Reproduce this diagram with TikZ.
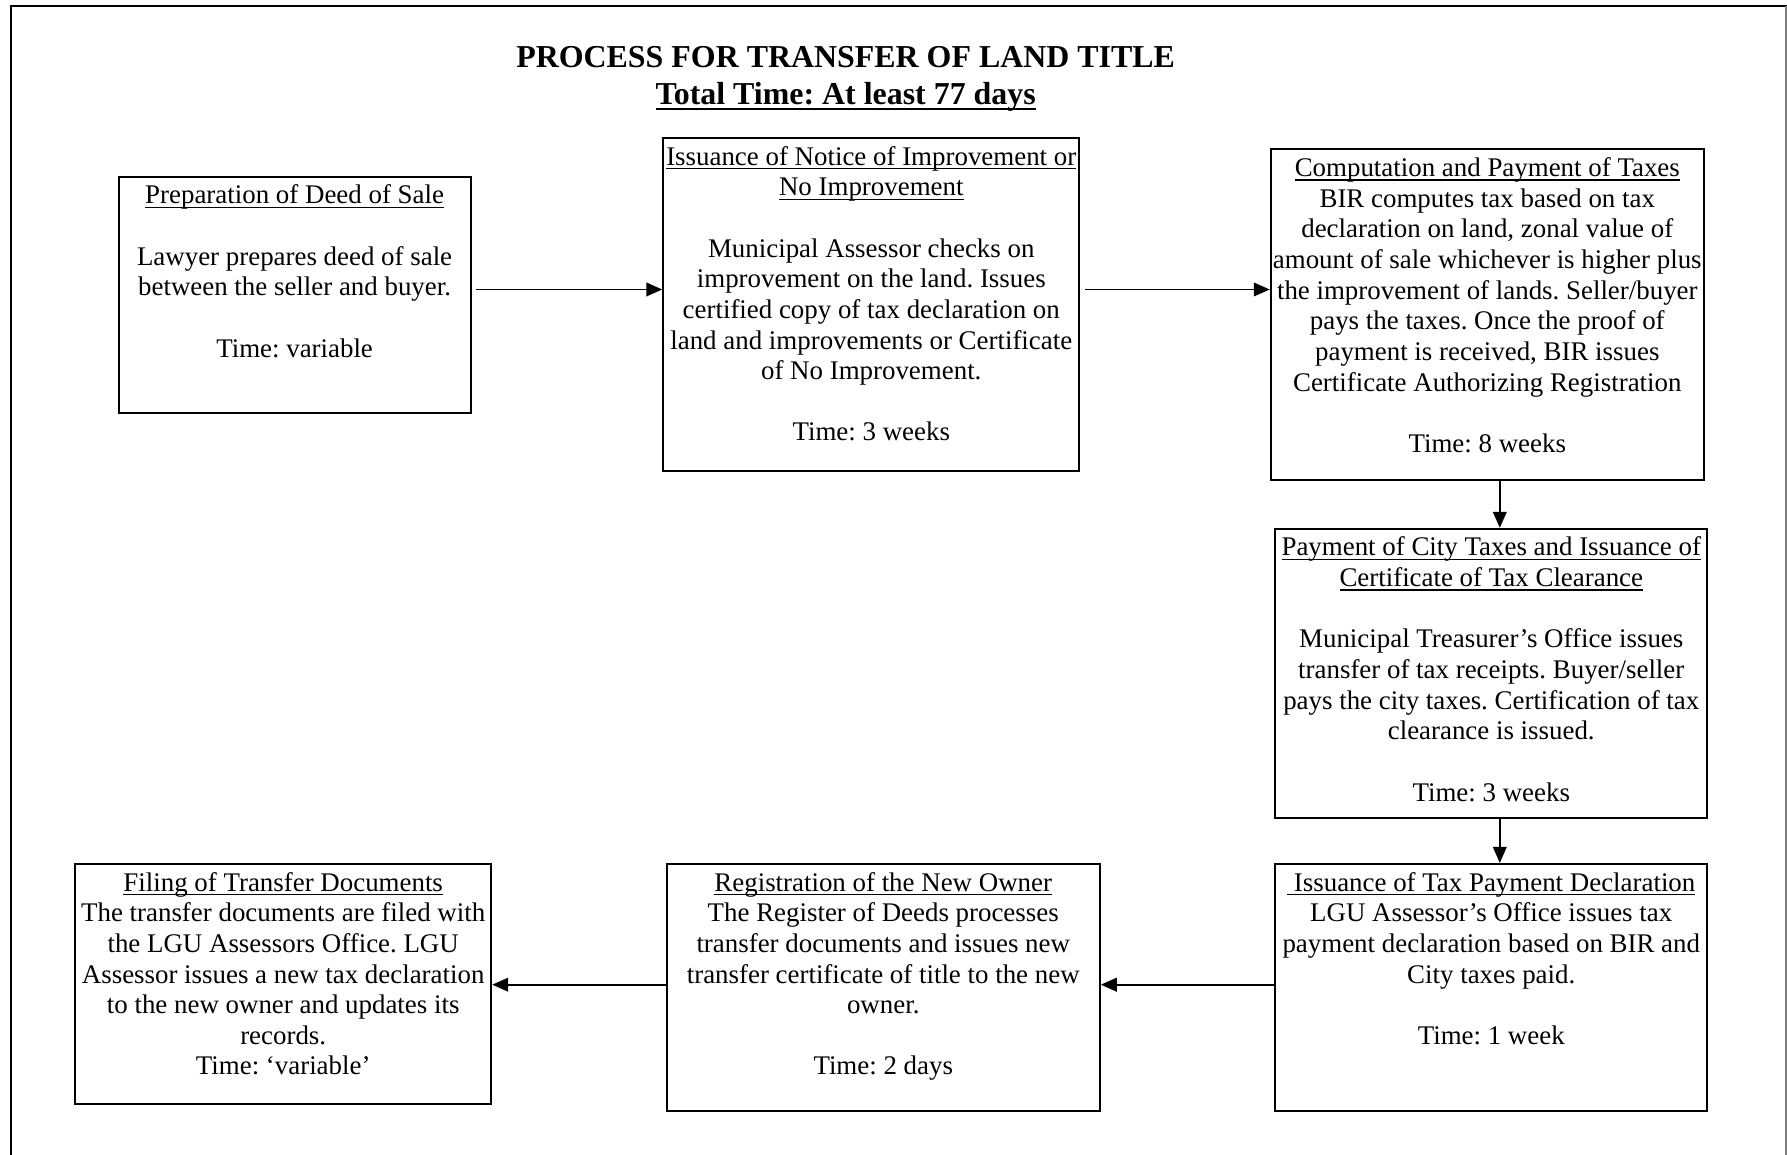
\documentclass[tikz,border=0pt]{standalone}
\usepackage{fontspec}
\setmainfont{Liberation Serif}
\usetikzlibrary{arrows.meta}

% underlined heading line, rule set at a fixed depth below the baseline
\newcommand\hdline[1]{\leavevmode\setbox0=\hbox{#1}\rlap{\rule[-1.9pt]{\wd0}{0.65pt}}\box0}
\newcommand\hdlinebold[1]{\leavevmode\setbox0=\hbox{#1}\rlap{\rule[-2.7pt]{\wd0}{1.1pt}}\box0}
\newcommand\blankln{\\[\baselineskip]}

\begin{document}
\begin{tikzpicture}[x=0.5pt, y=-0.5pt,
  stagebox/.style={draw=black, line width=0.9pt, rectangle, inner sep=0pt},
  stagetext/.style={anchor=north, inner sep=0pt, align=flush center, text width=200pt,
    font=\fontsize{11.8}{13.45}\selectfont\frenchspacing},
  flow/.style={draw=black, line width=0.75pt, -{Triangle[length=7pt,width=6pt]}}]

\useasboundingbox (0,0) rectangle (1568,1013);

% page frame
\draw[black, line width=0.8pt] (10,1013) -- (10,5) -- (1568,5);
\draw[gray, line width=0.6pt] (1567,5) -- (1567,1013);

% heading
\node[anchor=north, inner sep=0pt, align=center,
  font=\bfseries\fontsize{14}{16}\selectfont\frenchspacing] (title) at (742,36.6)
  {\strut PROCESS FOR TRANSFER OF LAND TITLE\\ \hdlinebold{Total Time: At least 77 days}};

% stage boxes
\node[stagebox, minimum width=154.5pt, minimum height=103.5pt] (b1) at (258.5,258.5) {};
\node[stagebox, minimum width=182.5pt, minimum height=146pt]   (b2) at (764.5,267) {};
\node[stagebox, minimum width=190pt,   minimum height=145pt]   (b3) at (1305,276) {};
\node[stagebox, minimum width=189.5pt, minimum height=127pt]   (b4) at (1308.5,591) {};
\node[stagebox, minimum width=189.5pt, minimum height=108.5pt] (b5) at (1308.5,866.5) {};
\node[stagebox, minimum width=190pt,   minimum height=108.5pt] (b6) at (775,866.5) {};
\node[stagebox, minimum width=182.5pt, minimum height=105.5pt] (b7) at (248.5,863.5) {};

% stage texts
\node[stagetext] (t1) at ([yshift=-2.75pt]b1.north)
  {\strut\hdline{Preparation of Deed of Sale}\blankln
   Lawyer prepares deed of sale\\ between the seller and buyer.\blankln
   Time: variable};

\node[stagetext] (t2) at ([yshift=-2.75pt]b2.north)
  {\strut\hdline{Issuance of Notice of Improvement or}\\ \hdline{No Improvement}\blankln
   Municipal Assessor checks on\\ improvement on the land. Issues\\
   certified copy of tax declaration on\\ land and improvements or Certificate\\
   of No Improvement.\blankln
   Time: 3 weeks};

\node[stagetext] (t3) at ([yshift=-2.75pt]b3.north)
  {\strut\hdline{Computation and Payment of Taxes}\\
   BIR computes tax based on tax\\ declaration on land, zonal value of\\
   amount of sale whichever is higher plus\\ the improvement of lands. Seller/buyer\\
   pays the taxes. Once the proof of\\ payment is received, BIR issues\\
   Certificate Authorizing Registration\blankln
   Time: 8 weeks};

\node[stagetext] (t4) at ([yshift=-2.75pt]b4.north)
  {\strut\hdline{Payment of City Taxes and Issuance of}\\ \hdline{Certificate of Tax Clearance}\blankln
   Municipal Treasurer’s Office issues\\ transfer of tax receipts. Buyer/seller\\
   pays the city taxes. Certification of tax\\ clearance is issued.\blankln
   Time: 3 weeks};

\node[stagetext] (t5) at ([yshift=-2.75pt]b5.north)
  {\strut\hdline{\ Issuance of Tax Payment Declaration}\\
   LGU Assessor’s Office issues tax\\ payment declaration based on BIR and\\
   City taxes paid.\blankln
   Time: 1 week};

\node[stagetext] (t6) at ([yshift=-2.75pt]b6.north)
  {\strut\hdline{Registration of the New Owner}\\
   The Register of Deeds processes\\ transfer documents and issues new\\
   transfer certificate of title to the new\\ owner.\blankln
   Time: 2 days};

\node[stagetext] (t7) at ([yshift=-2.75pt]b7.north)
  {\strut\hdline{Filing of Transfer Documents}\\
   The transfer documents are filed with\\ the LGU Assessors Office. LGU\\
   Assessor issues a new tax declaration\\ to the new owner and updates its\\
   records.\\ Time: ‘variable’};

% connector guides
\coordinate (ytop) at (0,254);
\coordinate (ybot) at (0,864);
\coordinate (xv) at (1316,0);

% connectors
\draw[flow, shorten <=2pt] (b1.east |- ytop) -- (b2.west |- ytop);
\draw[flow, shorten <=2pt] (b2.east |- ytop) -- (b3.west |- ytop);
\draw[flow] (b3.south -| xv) -- (b4.north -| xv);
\draw[flow] (b4.south -| xv) -- (b5.north -| xv);
\draw[flow] (b5.west |- ybot) -- (b6.east |- ybot);
\draw[flow] (b6.west |- ybot) -- (b7.east |- ybot);

\end{tikzpicture}
\end{document}
